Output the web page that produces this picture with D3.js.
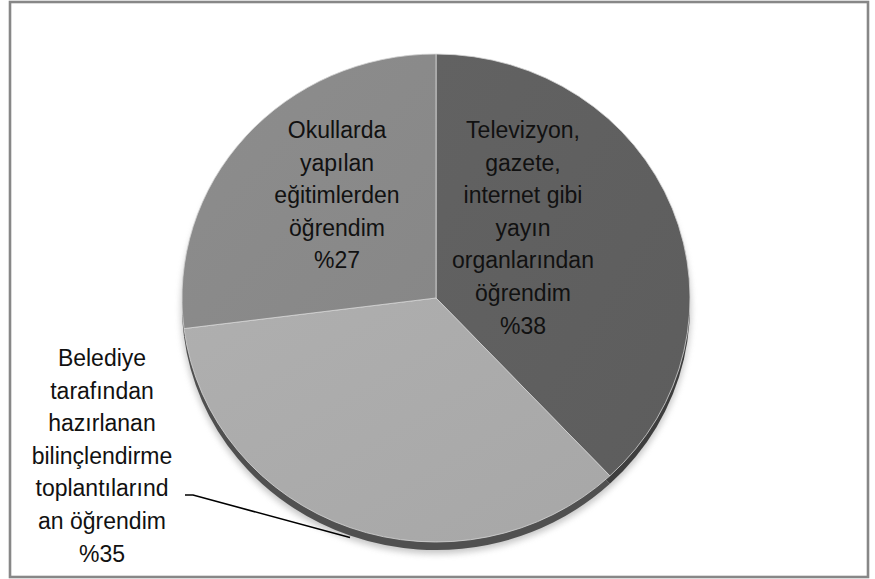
<!DOCTYPE html>
<html>
<head>
<meta charset="utf-8">
<script src="https://cdn.jsdelivr.net/npm/d3@7/dist/d3.min.js"></script>
<style>
  html, body { margin: 0; padding: 0; background: #fff; }
  svg { display: block; }
</style>
</head>
<body>
<svg id="chart" width="875" height="579"></svg>
<script>
// ---- data ----
const categories = [
  "Televizyon, gazete, internet gibi yayın organlarından öğrendim",
  "Belediye tarafından hazırlanan bilinçlendirme toplantılarından öğrendim",
  "Okullarda yapılan eğitimlerden öğrendim"
];
const values = [38, 35, 27];
const percentLabels = ["%38", "%35", "%27"];
const labelLines = [
  ["Televizyon,", "gazete,", "internet gibi", "yayın", "organlarından", "öğrendim", "%38"],
  ["Belediye", "tarafından", "hazırlanan", "bilinçlendirme", "toplantılarınd", "an öğrendim", "%35"],
  ["Okullarda", "yapılan", "eğitimlerden", "öğrendim", "%27"]
];
const sliceColors = ["#5f5f5f", "#aaaaaa", "#898989"];
const rimColors = ["#3e3e3e", "#505050", "#4a4a4a"];

// ---- layout ----
const svg = d3.select("#chart");
const cx = 436, cy = 298, rx = 254, ry = 244, depth = 8;

// frame
svg.append("rect")
  .attr("x", 10).attr("y", 2).attr("width", 858).attr("height", 575)
  .attr("fill", "#fff").attr("stroke", "#878787").attr("stroke-width", 2.6);

const defs = svg.append("defs");
const blur = defs.append("filter").attr("id", "shadowBlur")
  .attr("x", "-20%").attr("y", "-20%").attr("width", "140%").attr("height", "140%");
blur.append("feGaussianBlur").attr("stdDeviation", 3);

sliceColors.forEach((c, i) => {
  const g = defs.append("linearGradient").attr("id", "grad" + i)
    .attr("x1", "0%").attr("y1", "0%").attr("x2", "100%").attr("y2", "100%");
  g.append("stop").attr("offset", "0%").attr("stop-color", d3.color(c).brighter(0.08));
  g.append("stop").attr("offset", "100%").attr("stop-color", d3.color(c).darker(0.05));
});

const pie = d3.pie().sort(null).value(d => d)(values);
const arc = d3.arc().innerRadius(0).outerRadius(ry);

// shadow
svg.append("ellipse")
  .attr("cx", cx).attr("cy", cy + depth + 3)
  .attr("rx", rx + 1).attr("ry", ry + 1)
  .attr("fill", "#9a9a9a").attr("opacity", 0.55)
  .attr("filter", "url(#shadowBlur)");

// rim (side depth)
const rimG = svg.append("g")
  .attr("transform", `translate(${cx},${cy + depth}) scale(${rx / ry},1)`);
rimG.selectAll("path").data(pie).join("path")
  .attr("d", arc)
  .attr("fill", (d, i) => rimColors[i]);

// top faces
const topG = svg.append("g")
  .attr("transform", `translate(${cx},${cy}) scale(${rx / ry},1)`);
topG.selectAll("path").data(pie).join("path")
  .attr("d", arc)
  .attr("fill", (d, i) => `url(#grad${i})`)
  .attr("stroke", "#d6d6d6")
  .attr("stroke-width", 0.8)
  .attr("vector-effect", "non-scaling-stroke");

// labels
const fontSize = 23;
const lineH = 32.6;
const labelPos = [
  { x: 523, y0: 138 },
  { x: 102, y0: 366 },
  { x: 337, y0: 138 }
];
labelLines.forEach((lines, i) => {
  const t = svg.append("text")
    .attr("text-anchor", "middle")
    .attr("font-family", "'Liberation Sans', Arial, sans-serif")
    .attr("font-size", fontSize)
    .attr("fill", "#111");
  lines.forEach((ln, j) => {
    t.append("tspan")
      .attr("x", labelPos[i].x)
      .attr("y", labelPos[i].y0 + j * lineH)
      .text(ln);
  });
});

// leader line for Belediye label
const leaderAngle = pie[1].startAngle + (pie[1].endAngle - pie[1].startAngle) * 0.5;
const lx = cx + Math.sin(leaderAngle) * rx;
const ly = cy - Math.cos(leaderAngle) * ry + depth + 2;
svg.append("path")
  .attr("d", `M185,495 L193,495 L${lx},${ly}`)
  .attr("fill", "none").attr("stroke", "#000").attr("stroke-width", 1.6);
</script>
</body>
</html>
